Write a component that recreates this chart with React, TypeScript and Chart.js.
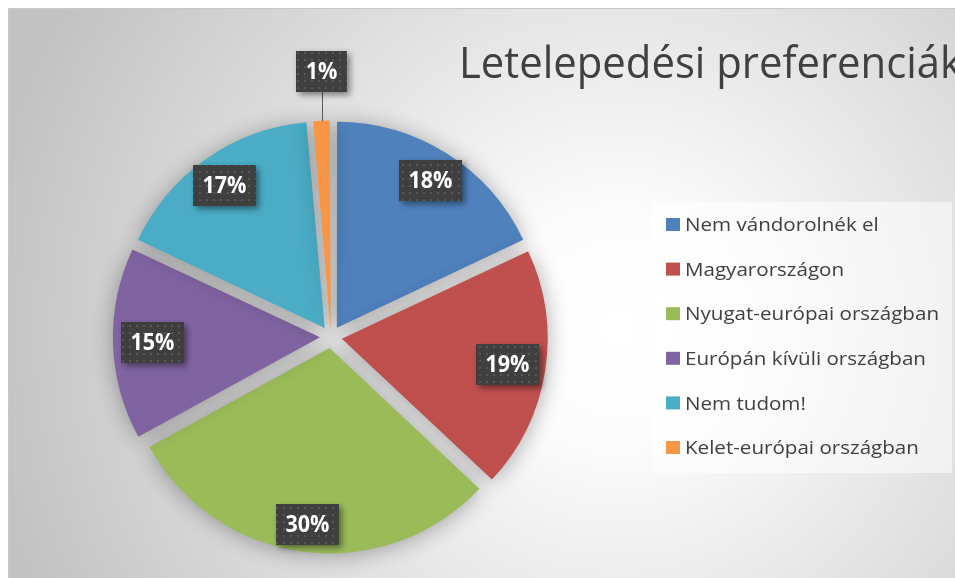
import React, { useEffect, useRef } from 'react';
import { Chart, registerables } from 'chart.js';

Chart.register(...registerables);

const TITLE = 'Letelepedési preferenciák';
const CATEGORIES = [
  'Nem vándorolnék el',
  'Magyarországon',
  'Nyugat-európai országban',
  'Európán kívüli országban',
  'Nem tudom!',
  'Kelet-európai országban',
];
const VALUES = [18, 19, 30, 15, 16.6, 1.4];
const COLORS = ['#4f81bd', '#c0504d', '#9bbb59', '#8064a2', '#4bacc6', '#f79646'];

const W = 947;
const H = 570;
const CX = 323;
const CY = 329;
const RADIUS = 205;
const EXPLODE = 11;
const FONT = '"Open Sans", "Noto Sans", sans-serif';

function drawScaledText(
  ctx: CanvasRenderingContext2D,
  text: string,
  x: number,
  y: number,
  font: string,
  sx: number,
  align: CanvasTextAlign,
  baseline: CanvasTextBaseline,
  color: string
) {
  ctx.save();
  ctx.font = font;
  ctx.fillStyle = color;
  ctx.textAlign = align;
  ctx.textBaseline = baseline;
  ctx.translate(x, y);
  ctx.scale(sx, 1);
  ctx.fillText(text, 0, 0);
  ctx.restore();
}

let dotPattern: CanvasPattern | null = null;
function getPattern(ctx: CanvasRenderingContext2D) {
  if (dotPattern) return dotPattern;
  const c = document.createElement('canvas');
  c.width = 7;
  c.height = 7;
  const p = c.getContext('2d')!;
  p.fillStyle = '#3f3f3f';
  p.fillRect(0, 0, 7, 7);
  p.fillStyle = '#575757';
  p.fillRect(2, 2, 2, 2);
  dotPattern = ctx.createPattern(c, 'repeat');
  return dotPattern;
}

const backgroundPlugin = {
  id: 'bg',
  beforeDraw(chart: any) {
    const ctx: CanvasRenderingContext2D = chart.ctx;
    ctx.save();
    const g = ctx.createRadialGradient(610, 320, 0, 610, 320, 640);
    g.addColorStop(0, '#ffffff');
    g.addColorStop(0.18, '#fcfcfc');
    g.addColorStop(1, '#c2c2c2');
    ctx.fillStyle = g;
    ctx.fillRect(0, 0, W, H);
    ctx.strokeStyle = '#c8c8c8';
    ctx.lineWidth = 1;
    ctx.beginPath();
    ctx.moveTo(0.5, H);
    ctx.lineTo(0.5, 0.5);
    ctx.lineTo(W, 0.5);
    ctx.stroke();

    // title
    ctx.font = '43px ' + FONT;
    const tw = ctx.measureText('Letelepedési preferenciá').width;
    drawScaledText(ctx, TITLE, 451, 70, '43px ' + FONT, 481 / tw, 'left', 'alphabetic', '#404040');

    // legend
    const lx = 645, ly = 194, lw = 299, lh = 271;
    ctx.fillStyle = 'rgba(255,255,255,0.55)';
    ctx.fillRect(lx, ly, lw, lh);
    ctx.font = '18px ' + FONT;
    const lwid = ctx.measureText('Nyugat-európai országban').width;
    const lsx = 254 / lwid;
    const labels = chart.data.labels as string[];
    const colors = chart.data.datasets[0].backgroundColor as string[];
    labels.forEach((lab, i) => {
      const cy = 217 + i * 44.6;
      ctx.fillStyle = colors[i];
      ctx.fillRect(658, cy - 7, 14, 13);
      drawScaledText(ctx, lab, 677, cy + 1, '18px ' + FONT, lsx, 'left', 'middle', '#404040');
    });
    ctx.restore();
  },
  beforeDatasetsDraw(chart: any) {
    const ctx: CanvasRenderingContext2D = chart.ctx;
    ctx.save();
    ctx.shadowColor = 'rgba(0,0,0,0.32)';
    ctx.shadowBlur = 22;
    ctx.shadowOffsetX = 0;
    ctx.shadowOffsetY = 2;
  },
  afterDatasetsDraw(chart: any) {
    const ctx: CanvasRenderingContext2D = chart.ctx;
    ctx.restore();
    ctx.save();
    const meta = chart.getDatasetMeta(0);
    const data = chart.data.datasets[0].data as number[];
    const total = data.reduce((a, b) => a + b, 0);
    const font = 'bold 24px ' + FONT;
    ctx.font = font;
    const sx = 44 / ctx.measureText('17%').width;
    meta.data.forEach((arc: any, i: number) => {
      const pct = Math.round((data[i] / total) * 100);
      const text = pct + '%';
      ctx.font = font;
      const tw = ctx.measureText(text).width * sx;
      const bw = Math.round(tw + 19);
      const bh = 41;
      const hw = bw / 2, hh = bh / 2;
      const mid = (arc.startAngle + arc.endAngle) / 2;
      const dx = Math.cos(mid), dy = Math.sin(mid);
      const ax = arc.x + dx * EXPLODE;
      const ay = arc.y + dy * EXPLODE;
      const R = arc.outerRadius;
      let bx: number, by: number;
      const share = data[i] / total;
      if (share < 0.03) {
        const ox = ax + dx * R;
        const oy = ay + dy * R;
        bx = ox;
        by = oy - 29 - hh;
        ctx.strokeStyle = '#595959';
        ctx.lineWidth = 1;
        ctx.beginPath();
        ctx.moveTo(Math.round(ox) + 0.5, oy);
        ctx.lineTo(Math.round(ox) + 0.5, by + hh);
        ctx.stroke();
      } else {
        const ext = Math.sqrt((hw * dx) ** 2 + (hh * dy) ** 2);
        const t = R - 6 - ext;
        bx = ax + dx * t;
        by = ay + dy * t;
      }
      const x0 = Math.round(bx - hw), y0 = Math.round(by - hh);
      ctx.save();
      ctx.shadowColor = 'rgba(0,0,0,0.45)';
      ctx.shadowBlur = 6;
      ctx.shadowOffsetX = 3;
      ctx.shadowOffsetY = 3;
      ctx.fillStyle = getPattern(ctx) || '#404040';
      ctx.fillRect(x0, y0, bw, bh);
      ctx.restore();
      drawScaledText(ctx, text, x0 + bw / 2, y0 + bh / 2 + 1, font, sx, 'center', 'middle', '#ffffff');
    });
    ctx.restore();
  },
};

export default function App() {
  const ref = useRef<HTMLCanvasElement | null>(null);
  useEffect(() => {
    if (!ref.current) return;
    const chart = new Chart(ref.current, {
      type: 'pie',
      data: {
        labels: CATEGORIES,
        datasets: [
          {
            data: VALUES,
            backgroundColor: COLORS,
            borderWidth: 0,
            offset: (c: any) => {
              // Chart.js draws offset/4; small arcs also get radius growth, compensate
              const v = VALUES[c.dataIndex];
              const total = VALUES.reduce((a, b) => a + b, 0);
              return v / total < 0.03 ? EXPLODE * 4 * 0.55 : EXPLODE * 4;
            },
            clip: false,
          } as any,
        ],
      },
      options: {
        animation: false,
        responsive: false,
        devicePixelRatio: 1,
        events: [],
        radius: RADIUS,
        layout: {
          padding: { left: 0, right: W - 2 * CX, top: 2 * CY - H, bottom: 0 },
        },
        plugins: {
          legend: { display: false },
          title: { display: false },
          tooltip: { enabled: false },
        },
      } as any,
      plugins: [backgroundPlugin],
    });
    return () => chart.destroy();
  }, []);
  return (
    <div style={{ position: 'fixed', left: 8, top: 8, width: W, height: H, overflow: 'hidden' }}>
      <canvas ref={ref} width={W} height={H} style={{ width: W, height: H, display: 'block' }} />
    </div>
  );
}
